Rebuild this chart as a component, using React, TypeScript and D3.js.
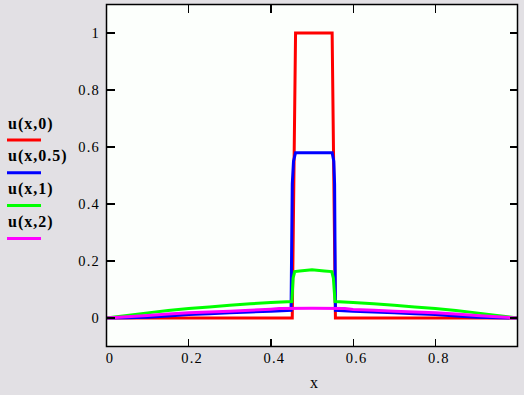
import React from "react";
import * as d3 from "d3";

const W = 524;
const H = 395;

// x-grid and values for each series
const x0 = [0, 0.452, 0.46, 0.549, 0.557, 1];
const u0 = [0, 0, 1, 1, 0, 0];

const x05 = [0, 0.05, 0.1, 0.15, 0.2, 0.25, 0.3, 0.35, 0.4, 0.449, 0.452, 0.455, 0.46, 0.549, 0.553, 0.555, 0.557, 0.6, 0.65, 0.7, 0.75, 0.8, 0.85, 0.9, 0.95, 1];
const u05 = [0, 0.001, 0.003, 0.007, 0.012, 0.015, 0.018, 0.021, 0.024, 0.027, 0.47, 0.55, 0.58, 0.58, 0.55, 0.47, 0.027, 0.024, 0.021, 0.018, 0.015, 0.012, 0.007, 0.003, 0.001, 0];

const x1 = [0, 0.05, 0.1, 0.15, 0.2, 0.25, 0.3, 0.35, 0.4, 0.451, 0.454, 0.458, 0.47, 0.5, 0.53, 0.548, 0.552, 0.556, 0.6, 0.65, 0.7, 0.75, 0.8, 0.85, 0.9, 0.95, 1];
const u1 = [0, 0.009, 0.018, 0.026, 0.033, 0.039, 0.045, 0.05, 0.054, 0.058, 0.14, 0.163, 0.165, 0.169, 0.165, 0.163, 0.14, 0.058, 0.054, 0.05, 0.045, 0.039, 0.033, 0.026, 0.018, 0.009, 0];

const x2 = [0, 0.05, 0.1, 0.15, 0.2, 0.25, 0.3, 0.35, 0.4, 0.42, 0.5, 0.58, 0.6, 0.65, 0.7, 0.75, 0.8, 0.85, 0.9, 0.95, 1];
const u2 = [0, 0.004, 0.009, 0.014, 0.018, 0.021, 0.024, 0.027, 0.031, 0.033, 0.034, 0.033, 0.03, 0.027, 0.024, 0.021, 0.018, 0.014, 0.009, 0.004, 0];

const seriesNames = ["u(x,0)", "u(x,0.5)", "u(x,1)", "u(x,2)"];
const seriesColors = ["#ff0000", "#0000ff", "#00ff00", "#ff00ff"];
const seriesX = [x0, x05, x1, x2];
const seriesU = [u0, u05, u1, u2];

const xTicks = [0, 0.2, 0.4, 0.6, 0.8];
const xTickLabels = ["0", "0.2", "0.4", "0.6", "0.8"];
const yTicks = [0, 0.2, 0.4, 0.6, 0.8, 1];
const yTickLabels = ["0", "0.2", "0.4", "0.6", "0.8", "1"];

export default function App() {
  const left = 106.5, right = 517.5, top = 4.5, bottom = 346.5;
  const xs = d3.scaleLinear().domain([0, 1]).range([left, right]);
  const ys = d3.scaleLinear().domain([-0.1, 1.1]).range([bottom, top]);
  const line = d3
    .line<[number, number]>()
    .x((d) => xs(d[0]))
    .y((d) => ys(d[1]));
  const font = "'Liberation Serif', 'Times New Roman', serif";
  const tl = 8;

  return (
    <svg
      width={W}
      height={H}
      style={{ position: "absolute", left: 0, top: 0, display: "block" }}
    >
      <rect x={0} y={0} width={W} height={H} fill="#e2e0e4" />
      <rect x={left} y={top} width={right - left} height={bottom - top} fill="#fcfffc" />
      {seriesX.map((xa, i) => (
        <path
          key={i}
          d={line(xa.map((xv, j) => [xv, seriesU[i][j]]) as [number, number][]) || ""}
          fill="none"
          stroke={seriesColors[i]}
          strokeWidth={3}
          strokeLinejoin="miter"
        />
      ))}
      {/* ticks */}
      {xTicks.slice(1).map((t) => (
        <g key={"xt" + t} stroke="#000" strokeWidth={1.2} shapeRendering="crispEdges">
          <line x1={xs(t)} x2={xs(t)} y1={bottom} y2={bottom - tl} />
          <line x1={xs(t)} x2={xs(t)} y1={top} y2={top + tl} />
        </g>
      ))}
      {yTicks.map((t) => (
        <g key={"yt" + t} stroke="#000" strokeWidth={1.2} shapeRendering="crispEdges">
          <line x1={left} x2={left + tl} y1={ys(t)} y2={ys(t)} />
          <line x1={right} x2={right - tl} y1={ys(t)} y2={ys(t)} />
        </g>
      ))}
      <rect
        x={left}
        y={top}
        width={right - left}
        height={bottom - top}
        fill="none"
        stroke="#000"
        strokeWidth={1.5}
      />
      {/* tick labels */}
      {xTicks.map((t, i) => (
        <text
          key={"xl" + t}
          x={xs(t) + 3.5}
          y={363}
          textAnchor="middle"
          fontFamily={font}
          fontSize={14.5}
          letterSpacing={1.2}
          fill="#000"
        >
          {xTickLabels[i]}
        </text>
      ))}
      {yTicks.map((t, i) => (
        <text
          key={"yl" + t}
          x={100}
          y={ys(t) + 5}
          textAnchor="end"
          fontFamily={font}
          fontSize={14.5}
          letterSpacing={1.2}
          fill="#000"
        >
          {yTickLabels[i]}
        </text>
      ))}
      <text x={314} y={388} textAnchor="middle" fontFamily={font} fontSize={16} fill="#000">
        x
      </text>
      {/* legend */}
      {seriesNames.map((n, i) => {
        const by = 128.5 + i * 32.7;
        return (
          <g key={n}>
            <text
              x={8}
              y={by}
              fontFamily={font}
              fontSize={16}
              fontWeight="bold"
              letterSpacing={1}
              fill="#000"
            >
              {n}
            </text>
            <line
              x1={7}
              x2={41}
              y1={by + 11.5 + (i === 3 ? 0.5 : 0)}
              y2={by + 11.5 + (i === 3 ? 0.5 : 0)}
              stroke={seriesColors[i]}
              strokeWidth={3}
            />
          </g>
        );
      })}
    </svg>
  );
}
